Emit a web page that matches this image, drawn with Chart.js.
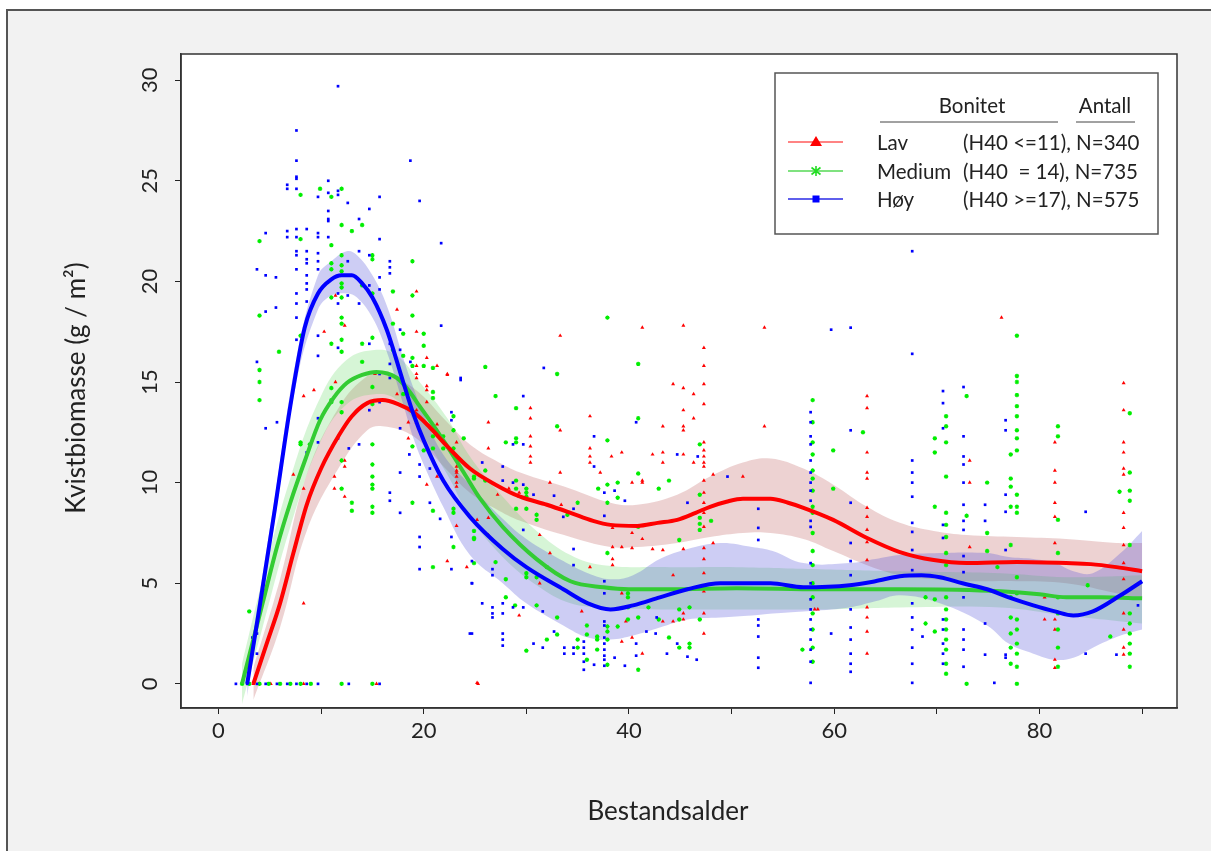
<!DOCTYPE html>
<html>
<head>
<meta charset="utf-8">
<script src="https://cdn.jsdelivr.net/npm/chart.js@4/dist/chart.umd.min.js"></script>
<style>
  body { margin: 0; background: #fff; }
  canvas { display: block; }
</style>
</head>
<body>
<canvas id="chart" width="1211" height="851"></canvas>
<script>
// smoothed curves: [age, value]
const lavLine = [[3.4,0],[4.7,2.0],[6,4.0],[7.3,6.5],[8.6,8.9],[10,10.7],[11.8,12.4],[13,13.3],[14.5,13.95],[16,14.1],[17.5,13.9],[19,13.5],[20.5,12.8],[22.3,11.8],[24.5,10.7],[27,9.9],[29.4,9.3],[32,8.9],[34.3,8.5],[36.5,8.1],[38.2,7.9],[40.8,7.85],[42.8,8.0],[44.7,8.15],[46.5,8.5],[47.9,8.8],[49.5,9.05],[51.1,9.2],[53.8,9.2],[55.5,9.0],[57,8.75],[59.9,8.15],[63.2,7.25],[66.4,6.55],[69.7,6.15],[72.9,6.0],[77.8,6.05],[82.6,6.0],[85,5.95],[87.5,5.8],[90,5.6]];
const mediumLine = [[2.3,0],[4.3,4.0],[5.7,6.8],[7,9.0],[8.5,11.2],[9.9,13.1],[11.2,14.2],[12.5,14.95],[14,15.35],[15.4,15.5],[17.4,15.2],[18.5,14.6],[19.6,13.8],[21,12.8],[22.3,11.8],[23.9,10.5],[25.5,9.2],[27.7,7.8],[31,6.2],[34.3,5.1],[37.5,4.8],[40,4.7],[44,4.7],[50.5,4.75],[58.6,4.7],[66.4,4.7],[72,4.68],[76.2,4.6],[80,4.45],[82.6,4.3],[86,4.3],[90,4.25]];
const hoyLine = [[2.8,0],[4,3.8],[5.5,8.7],[7,13.8],[8.4,17.7],[9.7,19.4],[11,20.1],[12,20.3],[13,20.3],[14,19.9],[15,19.2],[16.4,17.6],[18,15.0],[19,13.4],[20,12.1],[21.9,10.1],[24.5,8.3],[27.7,6.7],[30,5.8],[33.6,4.7],[36,4.0],[38.2,3.7],[40.4,3.9],[43,4.3],[45.7,4.7],[48.9,5.0],[53.8,5.0],[57,4.8],[61.5,4.9],[64,5.1],[66.4,5.35],[68.5,5.4],[70.3,5.3],[72.5,5.0],[74.9,4.7],[77,4.3],[79.4,3.9],[81.5,3.6],[83.3,3.4],[85.2,3.6],[87.9,4.4],[90,5.1]];

// confidence bands: [age, lower, upper]
const lavBand = [[3.4,-0.8,0.8],[6,2.8,5.2],[8.6,7.6,10.4],[11.8,10.8,13.8],[14.5,12.6,15.3],[16,12.8,15.4],[19,12.3,14.7],[22.3,10.6,13.0],[24.5,9.5,11.9],[27,8.7,11.1],[29.4,8.1,10.5],[34.3,7.3,9.7],[38.2,6.8,9.0],[40.8,6.8,8.9],[44.7,7.0,9.4],[47.9,7.3,10.3],[51.1,7.5,11.0],[53.8,7.5,11.2],[57,7.2,10.7],[59.9,6.6,9.9],[63.2,5.9,8.8],[66.4,5.4,8.0],[69.7,5.2,7.6],[72.9,5.1,7.4],[77.8,5.1,7.3],[82.6,5.0,7.2],[87.5,4.5,7.0],[90,4.2,7.0]];
const mediumBand = [[2.3,-1.0,1.0],[4.3,2.8,5.2],[7,7.8,10.2],[9.9,12.0,14.2],[12.5,13.9,16.1],[15.4,14.4,16.6],[17.4,14.1,16.3],[19.6,12.6,15.0],[22.3,10.4,13.2],[24.5,8.3,11.3],[27.7,6.3,9.3],[31,4.9,7.6],[34.3,4.0,6.4],[37.5,3.8,5.9],[44,3.7,5.8],[50.5,3.7,5.8],[58.6,3.7,5.7],[66.4,3.8,5.6],[76.2,3.8,5.5],[82.6,3.4,5.3],[90,3.0,5.4]];
const hoyBand = [[2.8,-0.6,0.6],[5.5,8.1,9.3],[7.6,15.0,16.2],[9.7,18.6,20.3],[11,19.3,21.0],[12.5,19.4,21.5],[13.5,19.2,21.3],[15,18.2,20.3],[16.4,16.5,18.8],[18,13.9,16.2],[19,12.2,14.7],[20,10.9,13.4],[21.9,8.8,11.4],[24.5,6.4,9.9],[27.7,5.0,8.2],[30,4.0,7.2],[33.6,2.9,6.1],[36,2.3,5.5],[38.2,2.2,5.2],[40.4,2.4,5.4],[43,2.8,6.2],[45.7,3.2,6.7],[48.9,3.3,7.0],[52,3.4,6.8],[54,3.5,6.6],[57,3.6,6.0],[61.5,3.8,6.0],[64,4.1,6.2],[66.4,4.4,6.4],[70.3,4.0,6.5],[74.9,2.9,6.5],[77,2.0,6.3],[79.4,1.5,6.2],[81.5,1.2,6.0],[83.3,1.3,5.6],[85.2,1.8,5.5],[87.9,2.4,6.5],[90,2.7,7.6]];

// observations: [age, biomass]
const lavPoints = [[19.3,19.5],[17.4,18.6],[12.3,17.8],[10.3,17.5],[19.3,17.5],[19.3,15.8],[19.3,15.2],[20.3,16.2],[21.3,15.8],[22.3,15.4],[11.4,19.3],[15.25,15.4],
[7.3,10.4],[8.3,14.3],[9.3,14.6],[8.3,9.7],[8.3,4.0],[11.4,15.0],[11.3,10.3],[11.3,9.7],[12.3,11.1],[12.3,10.8],[12.3,9.3],[17.4,14.4],[18.5,13.0],[18.5,12.2],[19.3,15.4],[19.3,13.6],[19.3,13.0],[20.3,14.8],[20.3,14.6],[20.3,14.0],[20.3,9.9],[21.3,12.9],[21.3,12.6],[21.3,10.3],[22.3,15.35],[22.3,6.1],[23.2,12.0],[23.2,10.8],[23.2,10.6],[23.2,10.5],[23.2,10.3],[23.2,10.0],[23.2,9.8],[23.2,7.85],[24.2,5.8],
[3.4,0],[4.0,0],[5.1,0],[8.3,0],[15.4,0],[25.3,0],
[33.3,17.3],[41.3,17.7],[45.3,17.8],[53.2,17.7],[47.3,16.7],[47.3,15.8],[47.3,14.9],[47.3,13.9],[44.3,14.9],[45.3,14.7],[45.3,13.6],[45.3,12.8],[45.3,12.6],[46.3,14.4],[46.3,13.2],[53.2,12.8],[26.3,13.0],[30.4,13.7],[30.4,13.2],[30.4,12.3],[30.4,11.8],[30.4,11.3],[30.4,11.0],[26.3,11.7],[33.3,12.6],[33.3,10.5],[36.2,13.3],[36.2,11.7],[36.2,11.3],[36.2,11.0],[37.2,10.5],[38.3,11.3],[39.3,11.5],[42.3,11.4],[43.3,12.8],[43.3,11.5],[43.3,11.0],[45.3,11.4],[46.3,11.0],
[47.3,12.0],[47.3,11.6],[47.3,11.3],[47.3,11.0],[47.3,10.8],[47.3,10.1],[47.3,9.5],[47.3,9.0],[47.3,8.5],[47.3,7.8],[47.3,6.75],[47.3,6.2],[47.3,5.5],[47.3,4.6],[47.3,3.5],[47.3,2.5],
[48.2,10.4],[48.2,7.0],[51.1,10.3],[41.3,10.1],[41.3,10.0],[40.3,10.0],[32.3,10.0],[28.3,9.7],[29.3,9.5],[29.3,9.3],[27.2,9.4],[25.2,8.15],[26.3,8.25],[26.3,7.4],[31.3,7.4],[32.3,6.5],[33.4,8.9],[38.4,7.75],[38.4,6.8],[38.4,6.2],[38.4,5.9],[39.3,6.8],[40.3,7.5],[40.3,6.75],[41.3,7.2],[42.3,6.7],[43.3,6.65],[44.3,5.4],[44.3,3.1],[45.3,6.7],[45.3,3.5],[45.3,3.2],[39.3,4.5],[35.4,3.6],[29.3,3.4],[31.3,5.0],[36.2,5.8],[39.3,2.1],[40.3,2.3],[41.3,1.5],[39.7,3.1],[43.3,3.1],[58.4,3.7],[25.2,0.05],
[76.3,18.2],
[63.2,14.3],[63.2,13.7],[63.2,11.5],[63.2,10.5],[63.2,10.2],[63.2,8.75],[63.2,8.3],[63.2,7.65],[63.2,7.05],[63.2,6.15],[63.2,3.8],[63.2,3.3],[63.2,2.6],[63.2,1.5],
[58.1,3.7],[73.2,11.1],[73.2,10.0],[73.2,6.8],[73.2,4.9],
[81.5,12.0],[81.5,10.6],[81.5,10.0],[81.5,9.0],[81.5,8.3],[81.5,7.0],[81.5,3.2],[81.5,2.7],[81.5,1.2],[81.5,0.8],[80.5,4.3],[80.5,3.2],
[88.2,14.95],[88.2,13.6],[88.2,12.0],[88.2,11.5],[88.2,10.7],[88.2,10.4],[88.2,8.5],[88.2,7.75],[88.2,6.9],[88.2,6.0],[88.2,5.2],[88.2,4.3],[88.2,3.5],[88.2,2.7],[88.2,1.8],[88.2,1.45]];

const mediumPoints = [[4.0,22.0],[8.0,24.3],[9.9,24.6],[11.0,24.2],[12.0,24.6],[8.0,22.1],[11.0,21.8],[12.0,22.8],[13.0,22.5],[14.0,22.8],[15.0,21.3],[15.0,21.1],[12.0,21.3],[11.0,20.9],[11.0,20.6],[12.0,20.8],[12.0,20.5],[12.0,19.9],[12.0,19.7],[12.0,19.2],[11.0,19.2],[14.0,19.8],[15.0,19.4],[18.9,21.0],[17.0,19.5],[18.9,19.3],[18.9,18.3],[4.0,18.3],[12.0,18.2],[12.0,17.9],[18.0,17.4],[20.0,17.4],[20.0,16.8],[8.0,17.3],[11.0,16.9],[14.0,16.9],[15.0,17.2],[12.0,17.1],[12.0,16.5],[5.9,16.5],[17.0,17.9],[17.0,16.6],[18.0,16.3],[4.0,15.6],[14.0,16.0],[18.9,16.2],[18.9,15.8],[20.0,15.8],[20.9,15.7],
[3.0,3.6],[4.0,15.0],[4.0,14.1],[8.0,12.0],[8.0,11.9],[8.9,11.9],[11.0,14.7],[11.0,14.1],[11.0,14.0],[12.0,14.0],[12.0,13.5],[12.0,11.1],[12.0,9.7],[13.0,9.0],[13.0,8.6],[15.0,14.75],[15.0,13.9],[15.0,11.9],[15.0,10.9],[15.0,10.3],[15.0,9.9],[15.0,9.7],[15.0,8.8],[15.0,8.5],[18.0,14.4],[18.9,11.8],[18.9,9.0],[20.0,11.6],[20.9,14.5],[20.9,14.2],[20.9,12.3],[20.9,11.7],[20.9,8.6],[20.9,5.8],[21.9,11.7],[21.9,12.3],[22.9,13.3],[22.9,12.6],[22.9,11.7],[22.9,8.7],[22.9,8.5],[22.9,6.8],[23.9,12.2],[24.9,10.2],[24.9,7.6],[24.9,7.2],[24.9,6.0],
[2.3,0],[3.0,0],[4.0,0],[4.9,0],[6.0,0],[7.0,0],[8.0,0],[9.0,0],[12.0,0],[15.0,0],
[37.9,18.2],[26.0,15.75],[27.0,14.3],[29.0,13.7],[33.0,15.4],[40.9,15.9],[40.9,13.2],[33.0,12.8],[29.0,12.2],[29.0,12.0],[28.0,12.0],[37.9,12.1],[46.9,11.9],[26.0,10.6],[26.0,10.1],[29.0,10.1],[29.0,9.7],[30.0,9.7],[30.0,9.5],[30.0,9.3],[29.0,8.7],[30.0,8.7],[31.0,8.4],[31.0,8.15],[34.0,8.4],[35.0,9.0],[37.0,9.7],[37.9,9.9],[37.9,9.0],[38.9,10.0],[38.9,9.25],[40.9,10.45],[40.9,7.8],[42.9,9.7],[43.9,10.1],[44.9,7.15],[46.9,9.4],[46.9,8.25],[46.9,7.95],[46.9,7.65],[48.0,8.1],[24.9,10.3],[24.9,7.25],[27.0,6.05],[28.0,5.2],[28.0,4.3],[28.9,3.9],[30.0,5.5],[30.0,5.3],[30.0,1.65],[31.0,5.3],[31.0,3.9],[32.0,5.8],[32.0,2.2],[33.0,3.3],[33.0,2.45],[35.0,2.2],[35.0,1.8],[35.9,2.9],[35.9,2.45],[35.9,1.2],[36.9,2.35],[36.9,2.2],[36.9,1.7],[37.9,6.5],[37.9,2.85],[37.9,2.6],[37.9,2.2],[37.9,0.95],[38.9,2.85],[39.9,4.5],[39.9,4.3],[39.9,3.8],[39.9,3.2],[40.9,3.3],[40.9,0.7],[41.9,3.8],[42.9,3.2],[43.9,2.3],[44.9,3.7],[44.9,3.2],[44.9,1.8],[45.9,3.8],[45.9,2.0],[45.9,1.8],[46.9,3.2],[56.9,1.7],
[57.9,14.1],[57.9,13.0],[57.9,12.0],[57.9,11.4],[57.9,10.6],[57.9,10.2],[57.9,9.6],[57.9,8.8],[57.9,8.5],[57.9,7.5],[57.9,6.6],[57.9,5.9],[57.9,5.0],[57.9,4.3],[57.9,3.5],[57.9,2.7],[57.9,1.8],[57.9,1.1],
[59.9,11.6],[59.9,9.7],[62.8,12.5],[69.8,12.2],[69.8,11.5],[69.8,8.8],[69.8,4.2],[69.8,2.6],[68.9,4.3],[68.9,3.0],
[70.9,13.3],[70.9,12.8],[70.9,12.0],[70.9,10.3],[70.9,8.5],[70.9,7.9],[70.9,7.3],[70.9,6.5],[70.9,5.9],[70.9,4.3],[70.9,3.7],[70.9,3.2],[70.9,2.7],[70.9,2.2],[70.9,1.7],[70.9,1.0],[70.9,0.5],
[72.9,14.3],[72.9,8.35],[72.9,0],[74.9,10.0],[74.9,7.5],[74.9,6.6],[75.9,5.8],
[77.2,11.4],[77.2,10.2],[77.2,9.8],[77.2,8.8],[77.2,6.9],[77.2,4.3],[77.2,3.3],[77.2,2.5],[77.2,1.8],[77.2,1.0],
[77.8,17.3],[77.8,15.3],[77.8,15.0],[77.8,14.35],[77.8,13.8],[77.8,13.3],[77.8,12.6],[77.8,12.2],[77.8,11.6],[77.8,9.4],[77.8,8.8],[77.8,8.5],[77.8,5.3],[77.8,4.5],[77.8,3.2],[77.8,2.7],[77.8,2.0],[77.8,1.5],[77.8,0.85],[77.8,0],
[81.8,12.8],[81.8,12.3],[81.8,8.15],[81.8,6.5],[81.8,4.3],[81.8,3.5],[81.8,2.7],[81.8,1.8],[81.8,0.85],
[84.7,4.9],[86.9,2.35],[87.8,9.55],
[88.8,13.45],[88.8,10.5],[88.8,9.6],[88.8,9.1],[88.8,6.9],[88.8,3.5],[88.8,3.0],[88.8,2.5],[88.8,2.0],[88.8,1.5],[88.8,0.85]];

const hoyPoints = [[11.65,29.7],[7.6,27.5],[7.6,26.0],[7.6,25.2],[7.6,25.1],[6.7,24.8],[6.7,24.6],[7.6,24.6],[10.7,25.0],[11.65,24.5],[11.65,24.3],[9.7,24.2],[10.7,24.4],[18.7,26.0],[19.6,24.0],[15.7,24.2],[12.6,23.9],[14.7,23.6],[10.7,23.5],[10.7,23.1],[10.7,23.0],[13.7,23.1],[4.6,22.4],[6.7,22.5],[6.7,22.2],[7.6,22.6],[7.6,22.2],[8.6,22.6],[9.7,22.4],[9.7,22.2],[10.7,22.2],[15.7,22.1],[21.7,21.9],[7.6,21.5],[7.6,21.3],[8.6,21.5],[8.6,21.1],[8.6,20.9],[9.7,21.4],[9.7,21.0],[9.7,20.6],[13.7,21.5],[14.7,21.3],[12.6,21.0],[16.7,21.0],[16.7,20.7],[16.7,20.4],[3.75,20.6],[4.6,20.3],[5.6,20.2],[7.6,20.6],[8.6,20.3],[8.6,19.9],[8.6,19.6],[8.6,19.0],[7.6,19.4],[7.6,18.9],[7.6,18.2],[15.7,20.2],[15.7,19.6],[14.7,19.8],[12.6,19.3],[13.7,18.9],[11.65,19.4],[11.65,18.9],[4.6,18.5],[5.6,18.7],[7.6,17.1],[9.7,17.3],[9.7,16.3],[11.65,16.7],[14.7,16.9],[16.7,16.9],[17.7,17.6],[17.7,16.6],[18.7,16.0],[21.7,17.8],[23.6,15.2],[3.75,16.0],[16.7,15.9],[16.7,15.2],[15.7,15.4],
[4.6,12.7],[5.7,13.0],[9.7,13.2],[9.7,12.0],[8.6,11.5],[11.65,12.2],[12.7,11.7],[13.7,11.9],[14.7,13.6],[15.7,14.0],[16.7,9.5],[16.7,9.1],[17.7,10.5],[17.7,8.5],[17.7,12.7],[18.6,11.4],[19.6,10.9],[19.6,10.3],[19.6,7.3],[19.6,6.8],[19.6,5.7],[20.6,10.7],[20.6,9.0],[21.6,8.2],[22.7,13.5],[22.7,13.1],[22.7,7.3],[22.7,5.7],[23.6,15.1],[24.7,6.1],[24.7,5.0],[24.7,2.5],[3.75,1.5],[3.75,2.5],[3.3,2.3],
[1.7,0],[2.8,0],[3.75,0],[4.6,0],[5.7,0],[6.7,0],[7.6,0],[8.6,0],[9.7,0],[12.7,0],[15.7,0],
[40.7,13.0],[36.6,12.3],[31.7,15.7],[29.7,14.3],[28.7,11.9],[29.7,11.9],[44.7,11.4],[46.7,11.3],[25.7,11.0],[27.7,10.8],[27.7,10.1],[28.7,10.0],[29.7,9.9],[30.7,9.4],[32.7,9.35],[36.6,10.8],[37.6,9.5],[38.6,9.6],[39.6,9.1],[45.7,9.0],[49.6,10.3],[33.6,8.3],[34.6,8.7],[37.6,8.35],[29.7,7.65],[24.5,2.5],[24.7,5.0],[25.7,4.0],[26.7,5.7],[26.7,5.4],[26.7,3.8],[26.7,3.5],[26.7,3.3],[27.7,4.0],[27.7,3.5],[27.7,2.5],[27.7,2.2],[27.7,1.9],[28.7,3.8],[29.7,3.8],[30.7,2.0],[31.6,1.8],[31.6,3.6],[32.7,2.6],[33.7,1.8],[33.7,1.5],[34.6,1.8],[34.6,1.5],[34.6,6.7],[35.6,2.1],[35.6,1.8],[35.6,1.5],[35.6,1.1],[35.6,0.7],[36.6,0.95],[37.6,3.1],[37.6,2.9],[37.6,2.3],[37.6,2.0],[37.6,1.7],[37.6,1.4],[37.6,1.2],[37.6,0.9],[37.6,5.1],[37.6,4.8],[37.6,4.5],[38.6,1.3],[39.6,0.9],[40.7,1.4],[40.7,2.0],[41.7,2.6],[42.6,2.5],[43.7,1.5],[44.7,2.0],[45.7,1.35],[46.6,1.2],[42.7,3.3],[34.6,5.9],
[52.6,8.7],[52.6,7.75],[52.6,7.15],[52.6,3.2],[52.6,2.9],[52.6,2.35],[52.6,1.3],[52.6,0.8],
[57.7,13.5],[57.7,13.0],[57.7,12.3],[57.7,11.9],[57.7,11.1],[57.7,10.5],[57.7,10.0],[57.7,9.6],[57.7,9.1],[57.7,8.6],[57.7,8.1],[57.7,7.8],[57.7,6.0],[57.7,5.0],[57.7,4.7],[57.7,4.2],[57.7,3.7],[57.7,3.2],[57.7,2.7],[57.7,2.2],[57.7,1.7],[57.7,1.1],[57.7,0.05],
[67.6,21.5],[59.7,17.6],[61.6,17.7],[67.6,16.4],[70.6,14.55],[70.6,13.95],[72.6,14.75],
[61.6,12.6],[61.6,9.0],[61.6,7.0],[61.6,6.1],[61.6,5.4],[61.6,3.7],[61.6,2.8],[61.6,2.2],[61.6,1.5],[61.6,1.0],[61.6,0.6],[59.7,2.5],
[67.6,11.1],[67.6,10.5],[67.6,10.0],[67.6,9.3],[67.6,8.0],[67.6,7.55],[67.6,6.65],[67.6,5.65],[67.6,4.0],[67.6,3.3],[67.6,2.7],[67.6,1.8],[67.6,1.0],[67.6,0.05],[68.6,2.35],
[70.6,12.7],[70.6,7.9],[70.6,7.25],[70.6,3.2],[70.6,2.7],[70.6,2.0],[70.6,1.5],[70.6,1.0],
[72.6,12.3],[72.6,11.3],[72.6,10.9],[72.6,10.0],[72.6,8.9],[72.6,8.1],[72.6,7.65],[72.6,6.35],[72.6,5.55],[72.6,4.3],[72.6,2.7],[72.6,2.2],[72.6,1.7],[72.6,0.85],
[74.7,8.9],[74.7,8.1],[74.7,3.0],[74.7,1.45],[75.6,0.05],
[76.7,13.1],[76.7,12.6],[76.7,9.4],[76.7,8.55],[76.7,6.65],[76.7,1.45],[76.7,1.3],
[84.5,8.55],[84.5,1.5],[87.5,1.45],[89.6,3.9]];

const yTicks = [0, 5, 10, 15, 20, 25, 30];
const legendRows = [
  { name: 'Lav', range: '(H40 <=11), N=340', color: '#ff0000', line: '#ff5a5a', marker: 'triangle' },
  { name: 'Medium', range: '(H40  = 14), N=735', color: '#22dd22', line: '#55d855', marker: 'star' },
  { name: 'Høy', range: '(H40 >=17), N=575', color: '#0000ff', line: '#2a2ae6', marker: 'rect' }
];

const FONT = 'Lato, "Open Sans", sans-serif';
const toXY = arr => arr.map(p => ({ x: p[0], y: p[1] }));

function curve(data, color) {
  return { type: 'line', data: toXY(data), borderColor: color, borderWidth: 4, pointRadius: 0,
    cubicInterpolationMode: 'monotone', fill: false };
}
function dots(data, color, style, r) {
  return { type: 'scatter', data: toXY(data), pointStyle: style, pointRadius: r,
    backgroundColor: color, borderColor: color, borderWidth: style === 'star' ? 1.2 : 0 };
}

const datasets = [
  curve(hoyLine, '#0000ff'),
  curve(lavLine, '#ff0000'),
  curve(mediumLine, '#33cc33'),
  dots(hoyPoints, '#0000ff', 'rect', 1.9),
  dots(mediumPoints, '#00ee00', 'star', 2.2),
  dots(lavPoints, '#ff0000', 'triangle', 2.3)
];

function addBand(band, fillColor) {
  const upperIndex = datasets.length;
  datasets.push({ type: 'line', data: band.map(b => ({ x: b[0], y: b[2] })), borderWidth: 0,
    borderColor: 'rgba(0,0,0,0)', pointRadius: 0, tension: 0.4, fill: false });
  datasets.push({ type: 'line', data: band.map(b => ({ x: b[0], y: b[1] })), borderWidth: 0,
    borderColor: 'rgba(0,0,0,0)', pointRadius: 0, tension: 0.4,
    fill: { target: upperIndex }, backgroundColor: fillColor });
}
addBand(hoyBand, 'rgba(70,70,215,0.27)');
addBand(mediumBand, 'rgba(90,215,90,0.25)');
addBand(lavBand, 'rgba(190,90,90,0.27)');

const framePlugin = {
  id: 'frame',
  beforeDraw(chart) {
    const ctx = chart.ctx, a = chart.chartArea;
    ctx.save();
    ctx.fillStyle = '#ffffff';
    ctx.fillRect(0, 0, chart.width, chart.height);
    ctx.fillStyle = '#f2f2f2';
    ctx.fillRect(8, 11, chart.width - 8, chart.height - 11);
    ctx.strokeStyle = '#555';
    ctx.lineWidth = 2;
    ctx.beginPath();
    ctx.moveTo(7, chart.height); ctx.lineTo(7, 10); ctx.lineTo(chart.width, 10);
    ctx.stroke();
    ctx.fillStyle = '#ffffff';
    ctx.fillRect(a.left, a.top, a.right - a.left, a.bottom - a.top);
    ctx.restore();
  },
  afterDraw(chart) {
    const ctx = chart.ctx, a = chart.chartArea;
    const ys = chart.scales.y;
    ctx.save();
    // plot box
    ctx.strokeStyle = '#333';
    ctx.lineWidth = 1.5;
    ctx.strokeRect(a.left, a.top, a.right - a.left, a.bottom - a.top);

    // y tick labels, rotated
    ctx.fillStyle = '#222';
    ctx.font = '22px ' + FONT;
    ctx.textAlign = 'center';
    ctx.textBaseline = 'middle';
    yTicks.forEach(v => {
      ctx.save();
      ctx.translate(150, ys.getPixelForValue(v));
      ctx.rotate(-Math.PI / 2);
      ctx.fillText(String(v), 0, 0);
      ctx.restore();
    });

    // axis titles
    ctx.font = '26px ' + FONT;
    ctx.fillText('Bestandsalder', 668, 812);
    ctx.save();
    ctx.translate(77, 388);
    ctx.rotate(-Math.PI / 2);
    ctx.fillText('Kvistbiomasse (g / m²)', 0, 0);
    ctx.restore();

    // legend
    ctx.fillStyle = '#fff';
    ctx.fillRect(775, 73, 383, 161);
    ctx.strokeStyle = '#555';
    ctx.lineWidth = 1.5;
    ctx.strokeRect(775, 73, 383, 161);
    ctx.fillStyle = '#222';
    ctx.font = '20.5px ' + FONT;
    ctx.textAlign = 'center';
    ctx.fillText('Bonitet', 972, 106);
    ctx.fillText('Antall', 1105, 106);
    ctx.strokeStyle = '#444';
    ctx.lineWidth = 1;
    ctx.beginPath();
    ctx.moveTo(880, 122); ctx.lineTo(1058, 122);
    ctx.moveTo(1076, 122); ctx.lineTo(1135, 122);
    ctx.stroke();
    const rowY = [142, 171, 199];
    legendRows.forEach((row, i) => {
      const y = rowY[i];
      ctx.strokeStyle = row.line;
      ctx.lineWidth = 1.5;
      ctx.beginPath(); ctx.moveTo(788, y); ctx.lineTo(843, y); ctx.stroke();
      ctx.fillStyle = row.color;
      ctx.strokeStyle = row.color;
      if (row.marker === 'triangle') {
        ctx.beginPath(); ctx.moveTo(816, y - 6); ctx.lineTo(822, y + 4); ctx.lineTo(810, y + 4); ctx.closePath(); ctx.fill();
      } else if (row.marker === 'rect') {
        ctx.fillRect(812.5, y - 3.5, 7, 7);
      } else {
        ctx.lineWidth = 1.6;
        ctx.beginPath();
        ctx.moveTo(816, y - 5); ctx.lineTo(816, y + 5);
        ctx.moveTo(811.5, y - 3.5); ctx.lineTo(820.5, y + 3.5);
        ctx.moveTo(820.5, y - 3.5); ctx.lineTo(811.5, y + 3.5);
        ctx.stroke();
      }
      ctx.fillStyle = '#222';
      ctx.textAlign = 'left';
      ctx.fillText(row.name, 877, y + 1);
      ctx.fillText(row.range, 963, y + 1);
    });
    ctx.restore();
  }
};

new Chart(document.getElementById('chart'), {
  type: 'scatter',
  data: { datasets },
  options: {
    responsive: false,
    animation: false,
    layout: { padding: { left: 0, top: 54, right: 34, bottom: 0 } },
    plugins: { legend: { display: false }, tooltip: { enabled: false } },
    scales: {
      x: {
        type: 'linear', min: -3.65, max: 93.4,
        afterFit: s => { s.height = 143; },
        border: { display: true, color: '#333', width: 1.5 },
        grid: { drawOnChartArea: false, tickLength: 6, color: '#222' },
        ticks: { stepSize: 10, includeBounds: false, autoSkip: false, maxRotation: 0, padding: 4,
          color: '#222', font: { family: FONT, size: 22 },
          callback: v => (v % 20 === 0 ? String(v) : '') }
      },
      y: {
        type: 'linear', min: -1.2, max: 31.3,
        afterFit: s => { s.width = 181; },
        border: { display: true, color: '#333', width: 1.5 },
        grid: { drawOnChartArea: false, tickLength: 6, color: '#222' },
        ticks: { stepSize: 5, includeBounds: false, color: 'rgba(0,0,0,0)', font: { family: FONT, size: 22 } }
      }
    }
  },
  plugins: [framePlugin]
});
</script>
</body>
</html>
